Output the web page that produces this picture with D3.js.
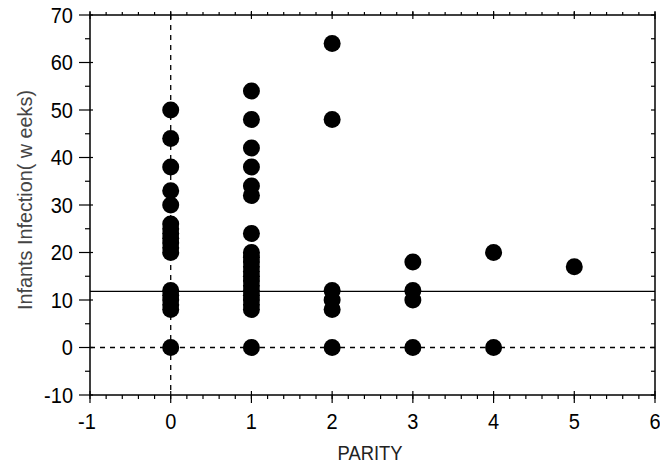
<!DOCTYPE html>
<html>
<head>
<meta charset="utf-8">
<script src="https://cdn.jsdelivr.net/npm/d3@7"></script>
<style>
  body { margin: 0; background: #fff; }
  text { font-family: "Liberation Sans", Arial, sans-serif; }
</style>
</head>
<body>
<svg id="chart" width="660" height="468"></svg>
<script>
// parity groups and weeks at infection
const parity0 = [50, 44, 38, 33, 30, 26, 25, 24, 23, 22, 21, 20, 12, 11, 10, 9, 8, 0];
const parity1 = [54, 48, 42, 38, 34, 32, 24, 20, 19, 18, 17, 16, 15, 14, 13, 12, 11, 10, 9, 8, 0];
const parity2 = [64, 48, 12, 10, 8, 0];
const parity3 = [18, 12, 10, 0];
const parity4 = [20, 0];
const parity5 = [17];
const groups = [parity0, parity1, parity2, parity3, parity4, parity5];
const meanWeeks = 11.8;

const xTicks = [-1, 0, 1, 2, 3, 4, 5, 6];
const yTicks = [-10, 0, 10, 20, 30, 40, 50, 60, 70];

const svg = d3.select('#chart');
const plotL = 90, plotR = 655, plotT = 15, plotB = 395;

const x = d3.scaleLinear().domain([-1, 6]).range([plotL, plotR]);
const y = d3.scaleLinear().domain([-10, 70]).range([plotB, plotT]);

const points = groups.flatMap((vals, i) => vals.map(v => ({ p: i, w: v })));

// reference lines
svg.append('line')
    .attr('x1', x(0)).attr('x2', x(0))
    .attr('y1', plotT).attr('y2', plotB)
    .attr('stroke', '#000').attr('stroke-width', 1.3)
    .attr('stroke-dasharray', '5,5');

svg.append('line')
    .attr('x1', plotL).attr('x2', plotR)
    .attr('y1', y(0)).attr('y2', y(0))
    .attr('stroke', '#000').attr('stroke-width', 1.3)
    .attr('stroke-dasharray', '5,5');

svg.append('line')
    .attr('x1', plotL).attr('x2', plotR)
    .attr('y1', y(meanWeeks)).attr('y2', y(meanWeeks))
    .attr('stroke', '#000').attr('stroke-width', 1.3);

// frame
svg.append('rect')
    .attr('x', plotL).attr('y', plotT)
    .attr('width', plotR - plotL).attr('height', plotB - plotT)
    .attr('fill', 'none').attr('stroke', '#000').attr('stroke-width', 1.5);

const tickG = svg.append('g').attr('stroke', '#000').attr('stroke-width', 1.2);

// bottom and top minor ticks every 0.2
const minorX = d3.range(-1, 6.001, 0.2);
minorX.forEach(v => {
    tickG.append('line').attr('x1', x(v)).attr('x2', x(v))
        .attr('y1', plotB).attr('y2', plotB + 4);
    tickG.append('line').attr('x1', x(v)).attr('x2', x(v))
        .attr('y1', plotT).attr('y2', plotT - 3);
});
xTicks.forEach(v => {
    tickG.append('line').attr('x1', x(v)).attr('x2', x(v))
        .attr('y1', plotB - 4).attr('y2', plotB + 8);
    tickG.append('line').attr('x1', x(v)).attr('x2', x(v))
        .attr('y1', plotT - 4).attr('y2', plotT + 4);
});

// left and right ticks
d3.range(-10, 70.001, 5).forEach(v => {
    const major = v % 10 === 0;
    tickG.append('line')
        .attr('x1', plotL - (major ? 11 : 5)).attr('x2', plotL + (major ? 3 : 0))
        .attr('y1', y(v)).attr('y2', y(v));
    tickG.append('line')
        .attr('x1', plotR - 4).attr('x2', plotR)
        .attr('y1', y(v)).attr('y2', y(v));
});

// tick labels
svg.append('g').selectAll('text').data(yTicks).join('text')
    .attr('transform', d => `translate(${plotL - 17}, ${y(d)}) scale(1, 1.1)`)
    .attr('dy', '0.36em')
    .attr('text-anchor', 'end')
    .attr('font-size', 20)
    .text(d => d);

svg.append('g').selectAll('text').data(xTicks).join('text')
    .attr('transform', d => `translate(${x(d) - (d < 0 ? 3 : 0)}, 429) scale(1, 1.12)`)
    .attr('text-anchor', 'middle')
    .attr('font-size', 20)
    .text(d => d);

// axis titles
svg.append('text')
    .attr('transform', `translate(32, 200) rotate(-90)`)
    .attr('text-anchor', 'middle')
    .attr('font-size', 20)
    .attr('textLength', 220)
    .attr('lengthAdjust', 'spacingAndGlyphs')
    .attr('fill', '#444')
    .text('Infants Infection( w eeks)');

svg.append('text')
    .attr('x', 370).attr('y', 460)
    .attr('text-anchor', 'middle')
    .attr('font-size', 21)
    .attr('textLength', 65)
    .attr('lengthAdjust', 'spacingAndGlyphs')
    .attr('fill', '#222')
    .text('PARITY');

// points
svg.append('g').selectAll('circle').data(points).join('circle')
    .attr('cx', d => x(d.p))
    .attr('cy', d => y(d.w))
    .attr('r', 8.5)
    .attr('fill', '#000');
</script>
</body>
</html>
